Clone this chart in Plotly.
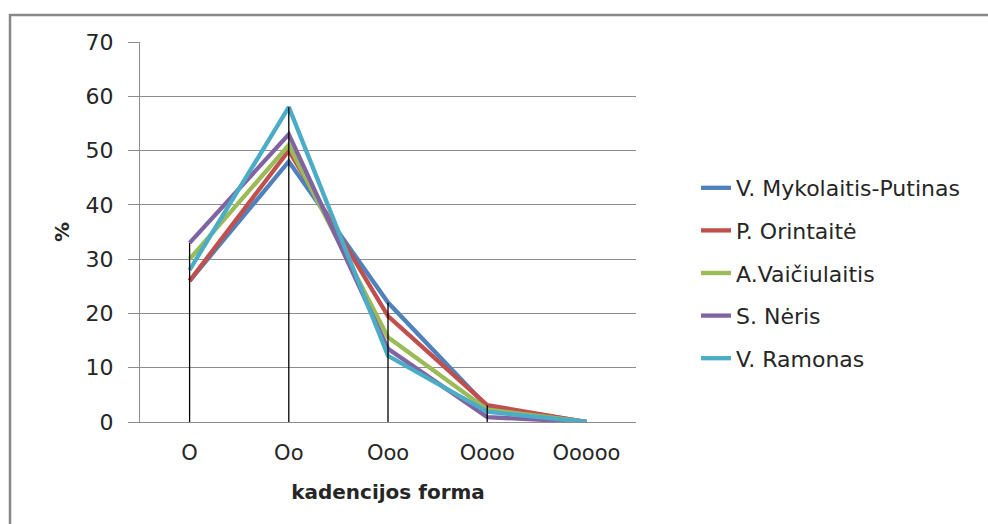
import plotly.graph_objects as go

# Cadence form categories and share (%) per author
categories = ["O", "Oo", "Ooo", "Oooo", "Ooooo"]
authors = ["V. Mykolaitis-Putinas", "P. Orintaitė", "A.Vaičiulaitis", "S. Nėris", "V. Ramonas"]
putinas = [26, 48, 22, 2.8, 0]
orintaite = [26, 50, 19.5, 3.1, 0]
vaiciulaitis = [30, 51, 15.6, 2.3, 0]
neris = [33, 53, 13.5, 0.9, 0]
ramonas = [28, 58, 12.2, 1.9, 0]
colors = ["#4F81BD", "#C0504D", "#9BBB59", "#8064A2", "#4BACC6"]

series = [putinas, orintaite, vaiciulaitis, neris, ramonas]

W, H = 988, 524
L, R, T, B = 140, 636, 42, 422  # plot area in pixels

fig = go.Figure()

for i, (name, vals, col) in enumerate(zip(authors, series, colors)):
    fig.add_trace(go.Scatter(
        x=categories, y=vals, mode="lines", name=name,
        line=dict(color=col, width=4.3),
        legendgroup=f"g{i}",
    ))

# Drop lines from each category's highest value down to the axis
drop_x, drop_y = [], []
for j, cat in enumerate(categories):
    top = max(s[j] for s in series)
    if top > 0:
        drop_x += [cat, cat, None]
        drop_y += [0, top, None]
fig.add_trace(go.Scatter(
    x=drop_x, y=drop_y, mode="lines", showlegend=False, hoverinfo="skip",
    line=dict(color="black", width=1.3),
))

pw, ph = R - L, B - T
# Outer chart border (top and left edges visible)
fig.add_shape(type="rect", xref="paper", yref="paper",
              x0=(10 - L) / pw, x1=(W + 20 - L) / pw,
              y0=(B - (H + 20)) / ph, y1=(B - 15) / ph,
              line=dict(color="#888888", width=2.5), fillcolor="rgba(0,0,0,0)",
              layer="below")

font = "DejaVu Sans, Verdana, sans-serif"
fig.update_layout(
    width=W, height=H,
    margin=dict(l=L, r=W - R, t=T, b=H - B, pad=0),
    paper_bgcolor="white", plot_bgcolor="white",
    font=dict(family=font, size=21, color="#262626"),
    xaxis=dict(
        type="category", range=[-0.5, 4.5],
        showgrid=False, showline=True, linecolor="#8c8c8c", linewidth=1.3,
        ticks="", tickfont=dict(size=21), ticklabelstandoff=12,
        title=dict(text="<b>kadencijos forma</b>", font=dict(size=20), standoff=20),
    ),
    yaxis=dict(
        range=[0, 70], dtick=10, showgrid=True, gridcolor="#8c8c8c", gridwidth=1,
        showline=True, linecolor="#8c8c8c", linewidth=1.3,
        ticks="outside", ticklen=11, tickcolor="#8c8c8c",
        tickfont=dict(size=22), zeroline=False, ticklabelstandoff=10,
        title=dict(text="<b>%</b>", font=dict(size=20), standoff=10),
    ),
    legend=dict(
        xref="container", yref="container", x=696 / W, y=1 - 167 / H,
        xanchor="left", yanchor="top",
        font=dict(size=22), tracegroupgap=11,
        itemwidth=30, bgcolor="rgba(0,0,0,0)",
    ),
    showlegend=True,
)

fig.write_html("out.html")
